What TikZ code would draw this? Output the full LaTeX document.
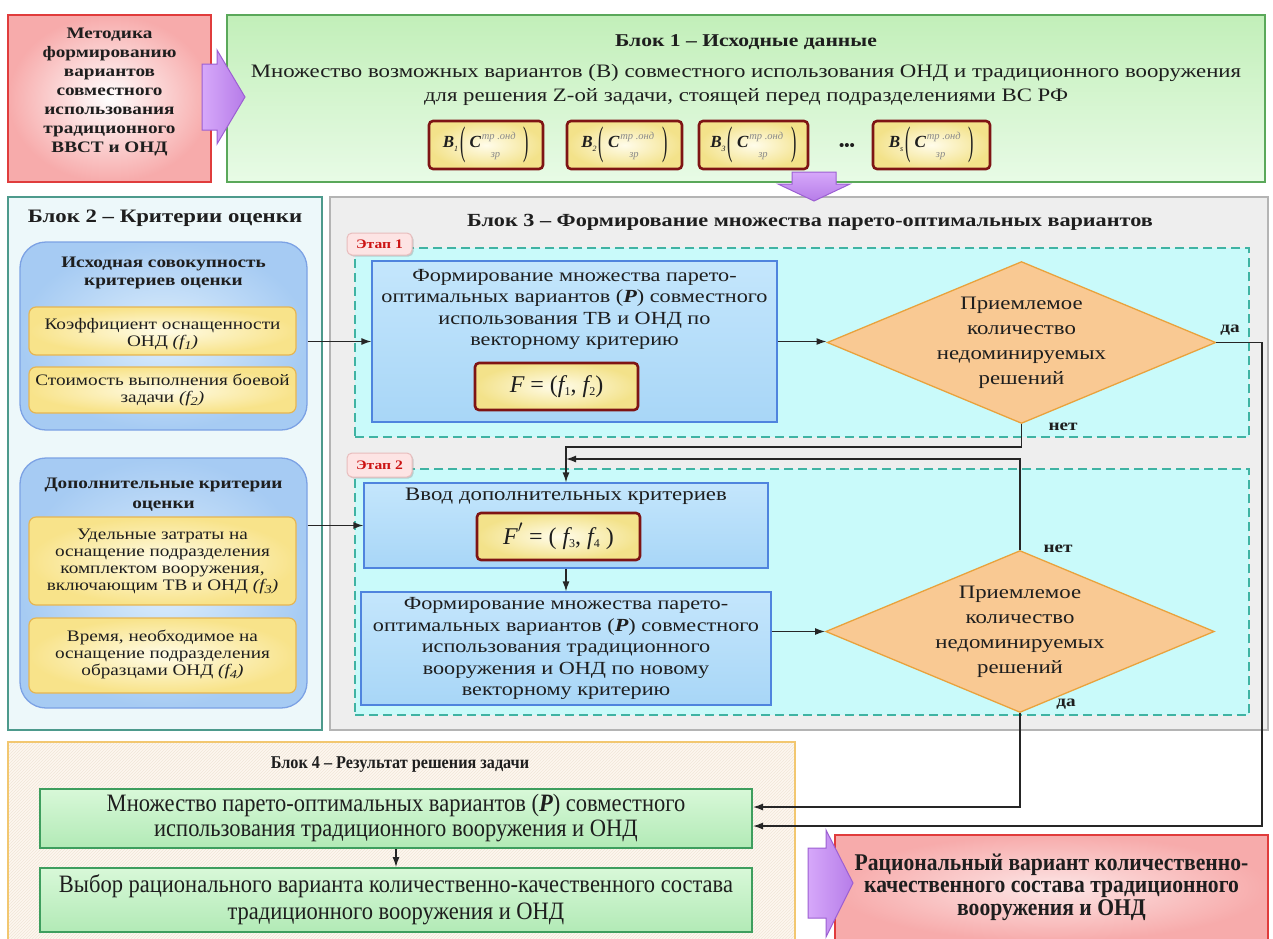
\documentclass[tikz,border=0pt]{standalone}
\usepackage{fontspec}
\setmainfont{Liberation Serif}[FakeStretch=1.2]
\newfontfamily\plainserif{Liberation Serif}
\newfontfamily\narrowserif{Liberation Serif}[FakeStretch=0.9]
\usepackage{graphicx}
\usetikzlibrary{arrows.meta,shapes.geometric,patterns,shadows}

\definecolor{redfill}{HTML}{F7ABAB}
\definecolor{redline}{HTML}{E03C3C}
\definecolor{violetA}{HTML}{D6A8FA}
\definecolor{violetB}{HTML}{B67CE8}
\definecolor{violetline}{HTML}{9C5FD2}
\definecolor{greenA}{HTML}{C2EFB9}
\definecolor{greenB}{HTML}{E8FBE6}
\definecolor{greenline}{HTML}{5AA85A}
\definecolor{frmlA}{HTML}{FFFCEA}
\definecolor{frmlB}{HTML}{F3E28A}
\definecolor{frmlline}{HTML}{7E1414}
\definecolor{tealline}{HTML}{4D9A8C}
\definecolor{tealfill}{HTML}{EDF8FA}
\definecolor{critA}{HTML}{DDEEFC}
\definecolor{critB}{HTML}{A6CBF3}
\definecolor{critline}{HTML}{7CA2E4}
\definecolor{yelA}{HTML}{FFFCE8}
\definecolor{yelB}{HTML}{F8E38A}
\definecolor{yelline}{HTML}{E6B552}
\definecolor{grayfill}{HTML}{EEEEEE}
\definecolor{grayline}{HTML}{B4B4B4}
\definecolor{stagefill}{HTML}{C9FAFA}
\definecolor{stageline}{HTML}{3FB3A3}
\definecolor{stepA}{HTML}{C4E6FC}
\definecolor{stepB}{HTML}{A8D6F7}
\definecolor{stepline}{HTML}{4F84DE}
\definecolor{decfill}{HTML}{F9C993}
\definecolor{decline}{HTML}{E9A23C}
\definecolor{tabfill}{HTML}{FDE4E4}
\definecolor{tabline}{HTML}{E8BDBD}
\definecolor{tabtext}{HTML}{CC1414}
\definecolor{resfill}{HTML}{FDF7EF}
\definecolor{resline}{HTML}{F2C770}
\definecolor{hatch}{HTML}{F1E6D8}
\definecolor{outA}{HTML}{D8F8D8}
\definecolor{outB}{HTML}{B2EAB6}
\definecolor{outln}{HTML}{3E9E5E}
\definecolor{fgray}{HTML}{8A8A8A}
\definecolor{ink}{HTML}{1E1E1E}

\newcommand\fsz[2]{\fontsize{#1}{#2}\selectfont}
\newcommand\lowidx[1]{\raisebox{-3pt}{\fsz{12}{12}#1}}
\newcommand\tallparen[1]{\raisebox{-7pt}{\scalebox{1}[2.5]{\fsz{16}{16}\plainserif #1}}}
\newcommand\bvar[1]{%
  \fsz{17}{17}\plainserif{\bfseries\itshape B}\raisebox{-4pt}{\fsz{8}{8}\itshape #1}%
  \hspace{2pt}\tallparen{(}\hspace{4pt}{\bfseries\itshape C}%
  \rlap{\raisebox{8pt}{\hspace{1pt}\color{fgray}\fsz{10.5}{10.5}\itshape тр .онд}}%
  \rlap{\raisebox{-10pt}{\hspace{10pt}\color{fgray}\fsz{10.5}{10.5}\itshape зр}}%
  \hspace{43pt}\tallparen{)}}

\tikzset{
  every node/.style={inner sep=0pt, align=center, text=ink},
  arr/.style={line width=1.3pt, draw=black!85, -{Latex[length=10pt,width=7pt]}},
  methbox/.style={draw=redline, line width=1.5pt, inner color=white, outer color=redfill},
  initbox/.style={draw=greenline, line width=2pt, top color=greenA, bottom color=greenB},
  frml/.style={draw=frmlline, line width=2.6pt, rounded corners=4pt, inner color=frmlA, outer color=frmlB},
  critblk/.style={draw=tealline, line width=1.5pt, fill=tealfill},
  critgrp/.style={draw=critline, line width=1.3pt, rounded corners=26pt, inner color=critA, outer color=critB},
  critbox/.style={draw=yelline, line width=1.2pt, rounded corners=7pt, inner color=yelA, outer color=yelB},
  paretoblk/.style={draw=grayline, line width=1.3pt, fill=grayfill},
  stageframe/.style={draw=stageline, line width=1.2pt, dash pattern=on 9pt off 5pt, fill=stagefill},
  stagetab/.style={draw=tabline, line width=1pt, fill=tabfill, rounded corners=5pt,
    drop shadow={shadow xshift=1.5pt, shadow yshift=-1.5pt, fill=black!35},
    font=\fsz{13}{13}\bfseries, text=tabtext},
  stepbox/.style={draw=stepline, line width=1.2pt, top color=stepA, bottom color=stepB},
  decision/.style={diamond, aspect=2.4, draw=decline, line width=1.3pt, fill=decfill},
  resblk/.style={draw=resline, line width=1.3pt, preaction={fill=resfill}, pattern=north east lines, pattern color=hatch},
  outbox/.style={draw=outln, line width=2pt, top color=outA, bottom color=outB},
  finalbox/.style={draw=redline, line width=1.5pt, inner color=white!70!redfill, outer color=redfill},
  bigarrow/.style={draw=violetline, line width=1pt},
  answer/.style={font=\fsz{16}{16}\bfseries},
  steptext/.style={font=\fsz{18.5}{21.5}},
  crittext/.style={font=\fsz{16}{17}},
  dectext/.style={font=\fsz{19}{25}},
  formtext/.style={font=\fsz{24}{24}\plainserif},
}

\begin{document}
\begin{tikzpicture}[x=1pt, y=-1pt]
\useasboundingbox[fill=white] (0,0) rectangle (1273,938);

% ---------- initial data ----------
\node[methbox, minimum width=203pt, minimum height=167pt] (meth) at (109.5,98.5) {};
\node[font=\fsz{16}{19}\bfseries] (metht) at (109.5,92) {Методика\\формированию\\вариантов\\совместного\\использования\\традиционного\\ВВСТ и ОНД};

\node[initbox, minimum width=1038pt, minimum height=167pt] (blk1) at (746,98.5) {};
\node[font=\fsz{18}{20}\bfseries] (blk1t) at (746,42) {Блок 1 – Исходные данные};
\node[font=\fsz{19}{24}] (blk1d) at (746,85) {Множество возможных вариантов (В) совместного использования ОНД и традиционного вооружения\\для решения Z-ой задачи, стоящей перед подразделениями ВС РФ};

\node[frml, minimum width=114pt, minimum height=48pt] (var1) at (486,145) {\bvar{1}};
\node[frml, minimum width=115pt, minimum height=48pt] (var2) at (624.5,145) {\bvar{2}};
\node[frml, minimum width=109pt, minimum height=48pt] (var3) at (753.5,145) {\bvar{3}};
\node[font=\fsz{15}{15}\plainserif\bfseries] (vdots) at (847,147) {•••};
\node[frml, minimum width=117pt, minimum height=48pt] (var4) at (931.5,145) {\bvar{s}};

% ---------- criteria ----------
\node[critblk, minimum width=314pt, minimum height=533pt] (blk2) at (165,463.5) {};
\node[font=\fsz{19}{22}\bfseries] (blk2t) at (165,218) {Блок 2 – Критерии оценки};

\node[critgrp, minimum width=287pt, minimum height=188pt] (grp1) at (163.5,336) {};
\node[font=\fsz{16}{18}\bfseries] (grp1t) at (163.5,273) {Исходная совокупность\\критериев оценки};
\node[critbox, minimum width=267pt, minimum height=48pt] (crit1) at (162.5,331) {};
\node[crittext] (crit1t) at (162.5,334) {Коэффициент оснащенности\\ОНД {\itshape (f\lowidx{1})}};
\node[critbox, minimum width=267pt, minimum height=46pt] (crit2) at (162.5,390) {};
\node[crittext] (crit2t) at (162.5,390) {Стоимость выполнения боевой\\задачи {\itshape (f\lowidx{2})}};

\node[critgrp, minimum width=287pt, minimum height=250pt] (grp2) at (163.5,583) {};
\node[font=\fsz{16}{20}\bfseries] (grp2t) at (163.5,495) {Дополнительные критерии\\оценки};
\node[critbox, minimum width=267pt, minimum height=88pt] (crit3) at (162.5,561) {};
\node[crittext] (crit3t) at (162.5,561) {Удельные затраты на\\оснащение подразделения\\комплектом вооружения,\\включающим ТВ и ОНД {\itshape (f\lowidx{3})}};
\node[critbox, minimum width=267pt, minimum height=75pt] (crit4) at (162.5,655.5) {};
\node[crittext] (crit4t) at (162.5,654) {Время, необходимое на\\оснащение подразделения\\образцами ОНД {\itshape (f\lowidx{4})}};

% ---------- pareto set ----------
\node[paretoblk, minimum width=938pt, minimum height=533pt] (blk3) at (799,463.5) {};
\node[font=\fsz{18.5}{20}\bfseries] (blk3t) at (810,222) {Блок 3 – Формирование множества парето-оптимальных вариантов};

\node[stageframe, minimum width=894pt, minimum height=189pt] (st1) at (802,342.5) {};
\node[stagetab, minimum width=65pt, minimum height=22pt] (tab1) at (379.5,244) {Этап 1};

\node[stepbox, minimum width=405pt, minimum height=161pt] (b1) at (574.5,341.5) {};
\node[steptext] (b1t) at (574.5,309.5) {Формирование множества парето-\\оптимальных вариантов ({\bfseries\itshape P}) совместного\\использования ТВ и ОНД по\\векторному критерию};
\node[frml, formtext, minimum width=163pt, minimum height=47pt] (fb1) at (556.5,386.5)
  {{\itshape F} = ({\itshape f}\lowidx{1}, {\itshape f}\lowidx{2})};

\node[decision, dectext, minimum width=383pt, minimum height=159pt] (d1) at (1021.5,342.5)
  {Приемлемое\\количество\\недоминируемых\\решений};

\node[stageframe, minimum width=894pt, minimum height=246pt] (st2) at (802,592) {};
\node[stagetab, minimum width=65pt, minimum height=24pt] (tab2) at (379.5,465) {Этап 2};

\node[stepbox, minimum width=404pt, minimum height=85pt] (b2a) at (566,525.5) {};
\node[font=\fsz{19}{21.5}] (b2at) at (566,496) {Ввод дополнительных критериев};
\node[frml, formtext, minimum width=163pt, minimum height=47pt] (fb2) at (558.5,536.5)
  {{\itshape F}\raisebox{3pt}{$'$} = ( {\itshape f}\lowidx{3}, {\itshape f}\lowidx{4} )};

\node[stepbox, steptext, minimum width=410pt, minimum height=113pt] (b2b) at (566,648.5)
  {Формирование множества парето-\\оптимальных вариантов ({\bfseries\itshape P}) совместного\\использования традиционного\\вооружения и ОНД по новому\\векторному критерию};

\node[decision, dectext, minimum width=386pt, minimum height=157pt] (d2) at (1020,631.5)
  {Приемлемое\\количество\\недоминируемых\\решений};

% ---------- result ----------
\node[resblk, minimum width=787pt, minimum height=198pt] (blk4) at (401.5,841) {};
\node[font=\fsz{18}{20}\narrowserif\bfseries] (blk4t) at (400,765) {Блок 4 – Результат решения задачи};
\node[outbox, minimum width=712pt, minimum height=59pt, font=\fsz{25}{25}\narrowserif] (g1) at (396,818.5)
  {Множество парето-оптимальных вариантов ({\bfseries\itshape P}) совместного\\использования традиционного вооружения и ОНД};
\node[outbox, minimum width=712pt, minimum height=64pt, font=\fsz{25}{27}\narrowserif] (g2) at (396,900)
  {Выбор рационального варианта количественно-качественного состава\\традиционного вооружения и ОНД};

\node[finalbox, minimum width=433pt, minimum height=106pt] (fin) at (1051.5,888) {};
\node[font=\fsz{24}{22.5}\narrowserif\bfseries] (fint) at (1051.5,887) {Рациональный вариант количественно-\\качественного состава традиционного\\вооружения и ОНД};

% ---------- block arrows ----------
\path[bigarrow, left color=violetA, right color=violetB]
  (202,64) -- (217,64) -- (217,50) -- (245,97) -- (217,144) -- (217,130) -- (202,130) -- cycle;
\path[bigarrow, top color=violetA, bottom color=violetB]
  (792,172) -- (836,172) -- (836,184) -- (850,184) -- (814,201) -- (778,184) -- (792,184) -- cycle;
\path[bigarrow, left color=violetA, right color=violetB]
  (808,848) -- (826,848) -- (826,830) -- (853,883) -- (826,937) -- (826,918) -- (808,918) -- cycle;

% ---------- connectors ----------
\coordinate (noA) at (1021.5,447);
\coordinate (noB) at (1020,459);
\coordinate (yesA) at (1262,826);
\coordinate (yesB) at (1020,807);
\draw[arr] (grp1.east |- b1.west) -- (b1.west);
\draw[arr] (b1.east) -- (b1.east -| d1.west);
\draw[arr] (grp2.east |- b2a.west) -- (b2a.west);
\draw[arr] (b2a.south) -- (b2a.south |- b2b.north);
\draw[arr] (b2b.east |- d2.west) -- (d2.west);
\draw[arr] (d1.south) -- (noA) -| (b2a.north);
\draw[arr] (d2.north) |- (b2a.north |- noB);
\draw[arr] (d1.east) -| (yesA) -- (yesA -| g1.east);
\draw[arr] (d2.south) |- (yesB -| g1.east);
\draw[arr] (g1.south) -- (g2.north);

\node[answer] (yes1) at (1230,330) {да};
\node[answer] (no1) at (1063,427) {нет};
\node[answer] (no2) at (1058,549) {нет};
\node[answer] (yes2) at (1066,704) {да};
\end{tikzpicture}
\end{document}
